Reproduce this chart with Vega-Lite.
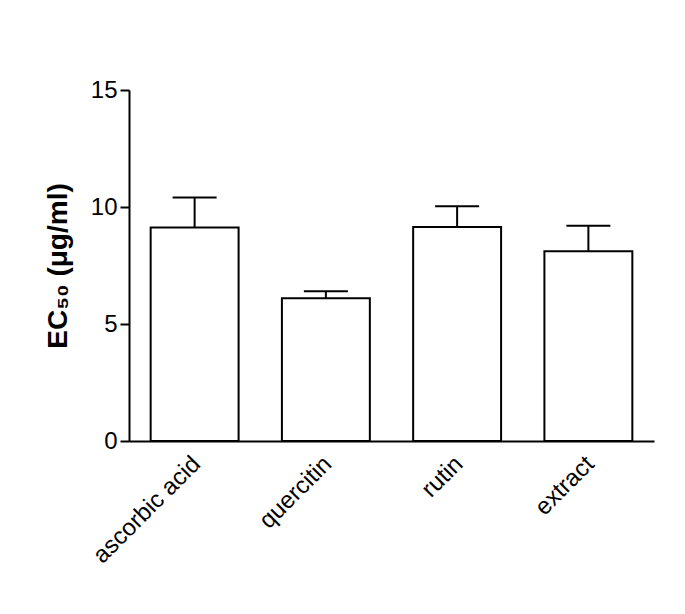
{
  "$schema": "https://vega.github.io/schema/vega-lite/v6.json",
  "autosize": {"type": "none"},
  "padding": {"left": 129, "top": 90, "right": 31, "bottom": 173},
  "width": 525,
  "height": 351,
  "background": "white",
  "config": {
    "view": {"stroke": null},
    "font": "Liberation Sans",
    "axis": {"grid": false, "domainColor": "black", "domainWidth": 2, "tickColor": "black", "tickWidth": 2, "labelColor": "black", "titleColor": "black", "labelFont": "Liberation Sans", "titleFont": "Liberation Sans"}
  },
  "data": {
    "values": [
      {"compound": "ascorbic acid", "value": 9.12, "upper": 10.41},
      {"compound": "quercitin", "value": 6.10, "upper": 6.40},
      {"compound": "rutin", "value": 9.15, "upper": 10.03},
      {"compound": "extract", "value": 8.11, "upper": 9.20}
    ]
  },
  "encoding": {
    "x": {
      "field": "compound", "type": "nominal", "sort": null,
      "scale": {"paddingInner": 0.33, "paddingOuter": 0.165},
      "axis": {"title": null, "labelAngle": -45, "labelAlign": "right", "labelBaseline": "alphabetic", "labelFontSize": 24, "labelPadding": 24, "labelOffset": 7, "ticks": false, "domainWidth": 2}
    }
  },
  "layer": [
    {
      "mark": {"type": "rule", "color": "black", "strokeWidth": 2},
      "encoding": {
        "y": {"field": "value", "type": "quantitative"},
        "y2": {"field": "upper"}
      }
    },
    {
      "mark": {"type": "tick", "color": "black", "thickness": 2, "size": 44, "opacity": 1},
      "encoding": {
        "y": {"field": "upper", "type": "quantitative"}
      }
    },
    {
      "mark": {"type": "bar", "fill": "white", "stroke": "black", "strokeWidth": 2},
      "encoding": {
        "y": {
          "field": "value", "type": "quantitative",
          "scale": {"domain": [0, 15], "nice": false},
          "axis": {"title": "EC₅₀ (μg/ml)", "values": [0, 5, 10, 15], "labelFontSize": 24, "tickSize": 9, "labelPadding": 3, "titleFontSize": 28, "titleFontWeight": "bold", "titlePadding": 18}
        }
      }
    }
  ]
}
